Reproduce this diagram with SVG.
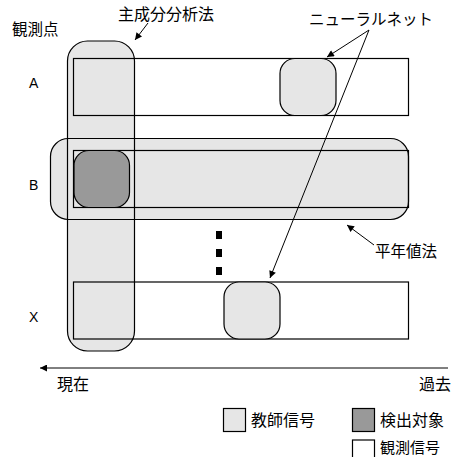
<svg xmlns="http://www.w3.org/2000/svg" width="454" height="457" viewBox="0 0 454 457">
<defs>
<style>
.ln{stroke:#000;stroke-width:1.2;fill:none}
.lg{fill:#e6e6e6}
.wh{fill:#fff}
.t{font-family:"Noto Sans CJK JP","Liberation Sans",sans-serif;font-size:15.5px;fill:#000}
.l{font-family:"Liberation Sans",Arial,sans-serif;font-size:14px;fill:#000}
.c{stroke:#000;stroke-width:1;fill:none}
</style>
<marker id="ah" viewBox="0 0 10 10" refX="10" refY="5" markerWidth="9" markerHeight="7" orient="auto" markerUnits="userSpaceOnUse">
<path d="M0,0 L10,5 L0,10 z" fill="#000"/>
</marker>
</defs>
<rect width="454" height="457" fill="#fff"/>

<g id="row-backgrounds">
<rect class="wh" x="73.5" y="58.5" width="335" height="57"/>
<rect class="wh" x="73.5" y="282" width="335" height="57"/>
</g>

<g id="pca-method">
<rect class="lg" x="67.5" y="41" width="67" height="310" rx="20"/>
</g>
<g id="normal-value-method">
<rect class="lg" x="50.5" y="138.5" width="358" height="81" rx="18"/>
</g>

<g id="outlines">
<rect class="ln" x="67.5" y="41" width="67" height="310" rx="20"/>
<rect class="ln" x="50.5" y="138.5" width="358" height="81" rx="18"/>
</g>

<g id="row-A">
<rect class="ln" x="73.5" y="58.5" width="335" height="57"/>
<text class="l" x="29" y="88">A</text>
</g>
<g id="row-B">
<rect class="ln" x="73.5" y="150.5" width="335" height="57"/>
<text class="l" x="29" y="190">B</text>
</g>
<g id="row-X">
<rect class="ln" x="73.5" y="282" width="335" height="57"/>
<text class="l" x="29" y="322">X</text>
</g>

<g id="nn-A">
<rect class="ln" style="fill:#e6e6e6" x="280" y="58.5" width="56" height="57" rx="15"/>
</g>
<g id="nn-X">
<rect class="ln" style="fill:#e6e6e6" x="224" y="282" width="56" height="57" rx="15"/>
</g>
<g id="target-B">
<rect class="ln" style="fill:#999" x="74" y="150.5" width="55.5" height="57" rx="15"/>
</g>

<g id="ellipsis">
<rect x="216" y="231" width="6" height="8" fill="#000"/>
<rect x="216" y="249" width="6" height="8" fill="#000"/>
<rect x="216" y="267" width="6" height="8" fill="#000"/>
</g>

<g id="connectors">
<line class="c" x1="148" y1="23" x2="135" y2="40" marker-end="url(#ah)"/>
<line class="c" x1="369" y1="30" x2="327" y2="57" marker-end="url(#ah)"/>
<line class="c" x1="369" y1="30" x2="270" y2="278" marker-end="url(#ah)"/>
<line class="c" x1="374" y1="245" x2="347" y2="225" marker-end="url(#ah)"/>
<line class="c" x1="448" y1="368" x2="40" y2="368" marker-end="url(#ah)"/>
</g>

<g id="labels">
<text class="t" x="12" y="35">観測点</text>
<text class="t" x="118" y="20" style="font-size:16px">主成分分析法</text>
<text class="t" x="309" y="25">ニューラルネット</text>
<text class="t" x="375" y="257">平年値法</text>
<text class="t" x="57" y="390" style="font-size:16px">現在</text>
<text class="t" x="419" y="390" style="font-size:16px">過去</text>
</g>

<g id="legend">
<rect class="ln" style="fill:#e6e6e6" x="223.5" y="408.5" width="22" height="23"/>
<text class="t" x="251" y="426" style="font-size:16px">教師信号</text>
<rect class="ln" style="fill:#999" x="352.5" y="408.5" width="22" height="23"/>
<text class="t" x="380" y="426" style="font-size:16px">検出対象</text>
<rect class="ln" style="fill:#fff" x="352.5" y="440" width="22" height="23"/>
<text class="t" x="380" y="452.5" style="font-size:15px">観測信号</text>
</g>
</svg>
